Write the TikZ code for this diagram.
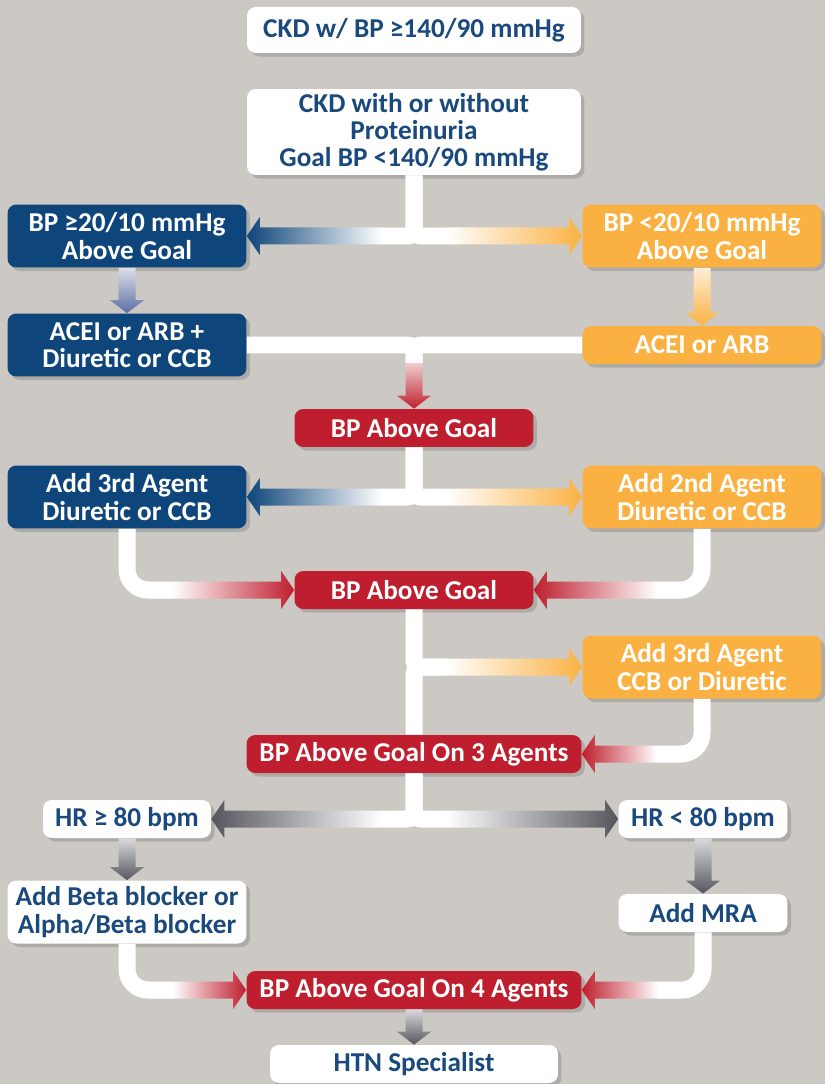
\documentclass[tikz,border=0pt]{standalone}
\usepackage{fontspec}
\setmainfont{Carlito}
\usepackage{xcolor}
\usepackage{tikz}
\usetikzlibrary{calc,shadows}

\definecolor{bgC}{RGB}{204,201,196}
\definecolor{blueC}{RGB}{14,69,122}
\definecolor{blueT}{RGB}{26,73,125}
\definecolor{blueA}{RGB}{92,110,162}
\definecolor{orangeC}{RGB}{250,177,66}
\definecolor{redC}{RGB}{190,30,45}
\definecolor{greyC}{RGB}{85,86,92}

% fat shaded arrows: band 17px, head 38px wide
\newcommand{\arrR}[3]{\shade[left color=white, right color=#3]
  ($(#1)+(0,-8.5)$) -- ($(#2)+(-13,-8.5)$) -- ($(#2)+(-13,-19)$) -- (#2)
  -- ($(#2)+(-13,19)$) -- ($(#2)+(-13,8.5)$) -- ($(#1)+(0,8.5)$) -- cycle;}
\newcommand{\arrL}[3]{\shade[left color=#3, right color=white]
  ($(#1)+(0,-8.5)$) -- ($(#2)+(13,-8.5)$) -- ($(#2)+(13,-19)$) -- (#2)
  -- ($(#2)+(13,19)$) -- ($(#2)+(13,8.5)$) -- ($(#1)+(0,8.5)$) -- cycle;}
\newcommand{\arrD}[3]{\shade[top color=white!78!#3, bottom color=#3]
  ($(#1)+(-8.5,0)$) -- ($(#2)+(-8.5,-13)$) -- ($(#2)+(-17,-13)$) -- (#2)
  -- ($(#2)+(17,-13)$) -- ($(#2)+(8.5,-13)$) -- ($(#1)+(8.5,0)$) -- cycle;}

\begin{document}
\begin{tikzpicture}[x=0.02cm, y=-0.02cm]
\tikzstyle{base} = [rectangle, rounded corners=5pt, align=center, inner sep=0pt, font=\bfseries\fontsize{15.5}{15.5}\selectfont, drop shadow={opacity=0.4, shadow xshift=2pt, shadow yshift=-2pt}]
\tikzstyle{wbox} = [base, fill=white, text=blueT]
\tikzstyle{bbox} = [base, fill=blueC, text=white, minimum width=4.78cm, minimum height=1.26cm]
\tikzstyle{obox} = [base, fill=orangeC, text=white, minimum width=4.78cm, minimum height=1.26cm]
\tikzstyle{rbox} = [base, fill=redC, text=white, minimum width=4.78cm, minimum height=0.76cm]
\tikzstyle{band} = [draw=white, line width=0.34cm, rounded corners=4pt]
\tikzstyle{bandc} = [draw=white, line width=0.34cm, rounded corners=12pt]

\fill[bgC] (0,0) rectangle (825,1084);
\useasboundingbox (0,0) rectangle (825,1084);

% boxes
\node (ckd) [wbox, minimum width=6.68cm, minimum height=0.92cm] at (414,30) {CKD w/ BP ≥140/90 mmHg};
\node (goal) [wbox, minimum width=6.68cm, minimum height=1.72cm] at (414,132) {CKD with or without\\Proteinuria\\Goal BP <140/90 mmHg};
\node (hiB) [bbox] at (127,236) {BP ≥20/10 mmHg\\Above Goal};
\node (loO) [obox] at (702,236) {BP <20/10 mmHg\\Above Goal};
\node (combB) [bbox] at (127,345) {ACEI or ARB +\\Diuretic or CCB};
\node (acei) [obox, minimum height=0.76cm] at (702,345) {ACEI or ARB};
\node (above1) [rbox] at (414,428) {BP Above Goal};
\node (thirdB) [bbox] at (127,497) {Add 3rd Agent\\Diuretic or CCB};
\node (secondO) [obox] at (702,497) {Add 2nd Agent\\Diuretic or CCB};
\node (above2) [rbox] at (414,590) {BP Above Goal};
\node (thirdO) [obox] at (702,667) {Add 3rd Agent\\CCB or Diuretic};
\node (above3) [rbox, minimum width=6.7cm] at (414,754) {BP Above Goal On 3 Agents};
\node (hrHi) [wbox, minimum width=3.36cm, minimum height=0.76cm] at (127,819) {HR ≥ 80 bpm};
\node (hrLo) [wbox, minimum width=3.38cm, minimum height=0.76cm] at (703,819) {HR < 80 bpm};
\node (beta) [wbox, minimum width=4.78cm, minimum height=1.26cm] at (127,912) {Add Beta blocker or\\Alpha/Beta blocker};
\node (mra) [wbox, minimum width=3.38cm, minimum height=0.76cm] at (703,913) {Add MRA};
\node (above4) [rbox, minimum width=6.7cm] at (414,990) {BP Above Goal On 4 Agents};
\node (htn) [wbox, minimum width=5.76cm, minimum height=0.76cm] at (414,1064) {HTN Specialist};

% junctions and arrow starts
\coordinate (j1) at (goal.south |- hiB.east);
\coordinate (s1l) at ($(j1)+(-32,0)$);
\coordinate (s1r) at ($(j1)+(32,0)$);
\coordinate (j2) at (above1.north |- combB.east);
\coordinate (s2) at ($(j2)+(0,18)$);
\coordinate (j3) at (above1.south |- thirdB.east);
\coordinate (s3l) at ($(j3)+(-32,0)$);
\coordinate (s3r) at ($(j3)+(32,0)$);
\coordinate (k1) at (thirdB.south |- above2.west);
\coordinate (s4) at ($(k1)+(45,0)$);
\coordinate (k2) at (secondO.south |- above2.east);
\coordinate (s5) at ($(k2)+(-45,0)$);
\coordinate (j4) at (above2.south |- thirdO.west);
\coordinate (s6) at ($(j4)+(32,0)$);
\coordinate (k3) at (thirdO.south |- above3.east);
\coordinate (s7) at ($(k3)+(-45,0)$);
\coordinate (j5) at (above3.south |- hrHi.east);
\coordinate (s8l) at ($(j5)+(-32,0)$);
\coordinate (s8r) at ($(j5)+(32,0)$);
\coordinate (k4) at (beta.south |- above4.west);
\coordinate (s9) at ($(k4)+(45,0)$);
\coordinate (k5) at (mra.south |- above4.east);
\coordinate (s10) at ($(k5)+(-45,0)$);

% connectors
\draw[band] (goal.south) -- (j1) -- (s1l);
\draw[band] (goal.south) -- (j1) -- (s1r);
\arrL{s1l}{hiB.east}{blueC}
\arrR{s1r}{loO.west}{orangeC}
\arrD{hiB.south}{combB.north}{blueA}
\arrD{loO.south}{acei.north}{orangeC}

\draw[band] (combB.east) -- (j2) -- (s2);
\draw[band] (acei.west) -- (j2) -- (s2);
\arrD{s2}{above1.north}{redC}

\draw[band] (above1.south) -- (j3) -- (s3l);
\draw[band] (above1.south) -- (j3) -- (s3r);
\arrL{s3l}{thirdB.east}{blueC}
\arrR{s3r}{secondO.west}{orangeC}

\draw[bandc] (thirdB.south) -- (k1) -- (s4);
\draw[bandc] (secondO.south) -- (k2) -- (s5);
\arrR{s4}{above2.west}{redC}
\arrL{s5}{above2.east}{redC}

\draw[band] (above2.south) -- (j4) -- (s6);
\draw[band] (above3.north) -- (j4) -- (s6);
\arrR{s6}{thirdO.west}{orangeC}
\draw[bandc] (thirdO.south) -- (k3) -- (s7);
\arrL{s7}{above3.east}{redC}

\draw[band] (above3.south) -- (j5) -- (s8l);
\draw[band] (above3.south) -- (j5) -- (s8r);
\arrL{s8l}{hrHi.east}{greyC}
\arrR{s8r}{hrLo.west}{greyC}
\arrD{hrHi.south}{beta.north}{greyC}
\arrD{hrLo.south}{mra.north}{greyC}

\draw[bandc] (beta.south) -- (k4) -- (s9);
\draw[bandc] (mra.south) -- (k5) -- (s10);
\arrR{s9}{above4.west}{redC}
\arrL{s10}{above4.east}{redC}
\arrD{above4.south}{htn.north}{greyC}

\end{tikzpicture}
\end{document}
